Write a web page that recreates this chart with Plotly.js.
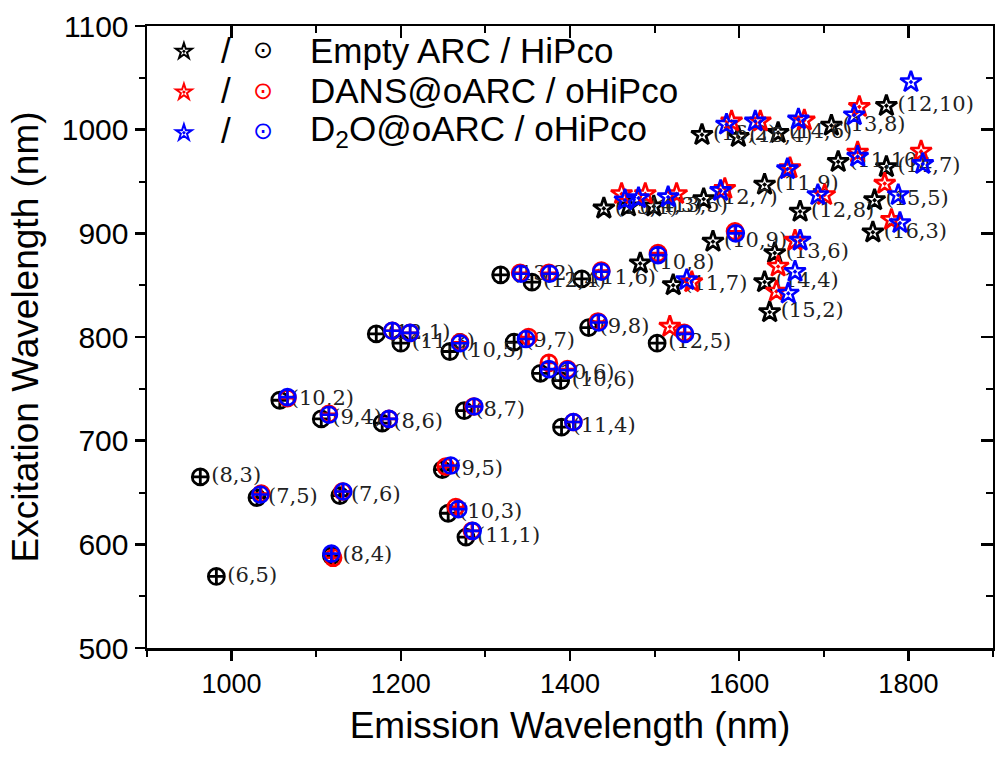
<!DOCTYPE html>
<html>
<head>
<meta charset="utf-8">
<script src="https://cdn.plot.ly/plotly-3.0.1.min.js"></script>
<style>html,body{margin:0;padding:0;background:#fff;}</style>
</head>
<body>
<div id="chart" style="width:995px;height:757px;"></div>
<script>
// HiPco (black circles) with chirality labels
const hipcoEm  = [982, 963, 1030, 1128, 1118, 1249, 1256, 1277, 1057, 1106, 1178, 1275, 1171, 1200, 1258, 1334, 1365, 1389, 1390, 1318, 1355, 1414, 1422, 1503];
const hipcoEx  = [569, 665, 645, 647, 589, 672, 630, 607, 739, 721, 717, 729, 803, 794, 786, 795, 765, 758, 713, 860, 853, 856, 809, 794];
const hipcoLab = ["(6,5)", "(8,3)", "(7,5)", "(7,6)", "(8,4)", "(9,5)", "(10,3)", "(11,1)", "(10,2)", "(9,4)", "(8,6)", "(8,7)", "(12,1)", "(11,3)", "(10,5)", "(9,7)", "(10,6)", "(10,6)", "(11,4)", "(13,2)", "(12,4)", "(11,6)", "(9,8)", "(12,5)"];

// Empty ARC (black stars) with chirality labels
const arcEm  = [1440, 1469, 1499, 1558, 1556, 1599, 1646, 1709, 1774, 1630, 1717, 1774, 1672, 1760, 1758, 1569, 1642, 1630, 1636, 1522, 1483];
const arcEx  = [924, 926, 926, 933, 995, 993, 997, 1004, 1023, 947, 969, 964, 921, 932, 901, 892, 881, 853, 824, 850, 871];
const arcLab = ["(15,1)", "(14,3)", "(13,5)", "(12,7)", "(16,2)", "(15,4)", "(14,6)", "(13,8)", "(12,10)", "(11,9)", "(11,10)", "(14,7)", "(12,8)", "(15,5)", "(16,3)", "(10,9)", "(13,6)", "(14,4)", "(15,2)", "(11,7)", "(10,8)"];

// DANS oHiPco (red circles)
const dansHiEm = [1035, 1131, 1120, 1253, 1265, 1284, 1066, 1115, 1186, 1286, 1190, 1211, 1270, 1351, 1375, 1397, 1404, 1341, 1375, 1437, 1433, 1504, 1535, 1595];
const dansHiEx = [649, 651, 587, 675, 636, 613, 741, 726, 721, 733, 806, 804, 795, 800, 775, 769, 718, 862, 862, 864, 815, 881, 804, 902];

// DANS@oARC (red stars)
const dansArcEm = [1461, 1489, 1526, 1583, 1591, 1625, 1677, 1742, 1660, 1740, 1815, 1701, 1772, 1780, 1666, 1646, 1644, 1544, 1518];
const dansArcEx = [938, 938, 938, 943, 1008, 1008, 1009, 1022, 963, 978, 979, 937, 948, 913, 893, 868, 844, 853, 810];

// D2O oHiPco (blue circles)
const d2oHiEm = [1034, 1132, 1118, 1259, 1268, 1285, 1066, 1115, 1186, 1287, 1190, 1211, 1270, 1348, 1375, 1397, 1404, 1342, 1376, 1437, 1434, 1504, 1536, 1596];
const d2oHiEx = [648, 651, 591, 676, 634, 613, 742, 725, 721, 733, 806, 804, 794, 798, 769, 768, 718, 861, 861, 863, 814, 879, 803, 900];

// D2O@oARC (blue stars)
const d2oArcEm = [1465, 1481, 1516, 1578, 1585, 1619, 1670, 1803, 1736, 1657, 1740, 1817, 1693, 1788, 1790, 1672, 1666, 1658, 1538];
const d2oArcEx = [932, 934, 935, 941, 1005, 1008, 1010, 1046, 1014, 962, 974, 967, 937, 937, 910, 893, 863, 842, 855];

// Legend
const legendLabels = ["Empty ARC / HiPco", "DANS@oARC / oHiPco", "D<sub>2</sub>O@oARC / oHiPco"];
const legendColors = ["#000000", "#ff0000", "#0000ff"];

const labelFont = {family: "DejaVu Serif, Liberation Serif, serif", size: 21, color: "#222"};
const circ = (color, w) => ({symbol: "circle-cross-open", size: 16, color: color, line: {color: color, width: w}});
const star = (color, w) => ({symbol: "star-open-dot", size: 16, color: color, line: {color: color, width: w}});

const traces = [
  {x: hipcoEm, y: hipcoEx, text: hipcoLab, mode: "markers+text", textposition: "middle right",
   textfont: labelFont, marker: circ("#000", 2.8), showlegend: false, cliponaxis: false},
  {x: arcEm, y: arcEx, text: arcLab, mode: "markers+text", textposition: "middle right",
   textfont: labelFont, marker: star("#000", 2.8), name: "\u00a0", cliponaxis: false},
  {x: dansHiEm, y: dansHiEx, mode: "markers", marker: circ(legendColors[1], 2.6), showlegend: false},
  {x: dansArcEm, y: dansArcEx, mode: "markers", marker: star(legendColors[1], 2.6), name: "\u00a0\u00a0"},
  {x: d2oHiEm, y: d2oHiEx, mode: "markers", marker: circ(legendColors[2], 2.6), showlegend: false},
  {x: d2oArcEm, y: d2oArcEx, mode: "markers", marker: star(legendColors[2], 2.6), name: "\u00a0\u00a0\u00a0"},
  {x: [], y: [], xaxis: "x2", yaxis: "y2", showlegend: false, hoverinfo: "skip"}
];

const rowY = [0.9614, 0.8955, 0.8312];
const annotations = [];
const legFont = {family: "Liberation Sans, Arial, sans-serif", size: 35, color: "#000"};
for (let i = 0; i < 3; i++) {
  annotations.push({xref: "paper", yref: "paper", x: 0.0933, y: rowY[i], xanchor: "center", yanchor: "middle",
                    text: "/", showarrow: false, font: legFont});
  annotations.push({xref: "paper", yref: "paper", x: 0.1370, y: rowY[i], xanchor: "center", yanchor: "middle",
                    text: "\u2299", showarrow: false,
                    font: {family: "DejaVu Sans, sans-serif", size: 24, color: legendColors[i]}});
  annotations.push({xref: "paper", yref: "paper", x: 0.1900, y: rowY[i], xanchor: "left", yanchor: "middle",
                    text: legendLabels[i], showarrow: false, font: legFont});
}

const axFont = {family: "Liberation Sans, Arial, sans-serif", color: "#000"};
const layout = {
  width: 995, height: 757,
  margin: {l: 147, r: 2, t: 26, b: 109},
  paper_bgcolor: "#fff", plot_bgcolor: "#fff",
  showlegend: true,
  annotations: annotations,
  legend: {x: 0.020, y: 1.0, xanchor: "left", yanchor: "top", bgcolor: "rgba(0,0,0,0)",
           font: {family: "Liberation Sans, Arial, sans-serif", size: 29, color: "#000"},
           itemsizing: "constant", tracegroupgap: 0},
  xaxis: {range: [900, 1900], tick0: 1000, dtick: 200, ticks: "outside", ticklen: 10, tickwidth: 2.5,
          tickcolor: "#000", showline: true, linewidth: 2.5, linecolor: "#000", showgrid: false, zeroline: false,
          minor: {dtick: 100, tick0: 900, ticks: "outside", ticklen: 6, tickwidth: 2, tickcolor: "#000", showgrid: false},
          tickfont: Object.assign({size: 27}, axFont),
          title: {text: "Emission Wavelength (nm)", font: Object.assign({size: 37}, axFont), standoff: 14}},
  yaxis: {range: [500, 1100], tick0: 500, dtick: 100, ticks: "outside", ticklen: 10, tickwidth: 2.5,
          tickcolor: "#000", showline: true, linewidth: 2.5, linecolor: "#000", showgrid: false, zeroline: false,
          minor: {dtick: 50, ticks: "outside", ticklen: 6, tickwidth: 2, tickcolor: "#000", showgrid: false},
          tickfont: Object.assign({size: 30}, axFont),
          title: {text: "Excitation Wavelength (nm)", font: Object.assign({size: 37}, axFont), standoff: 12}},
  xaxis2: {overlaying: "x", side: "top", anchor: "y2", range: [900, 1900], tick0: 1000, dtick: 200,
           ticks: "inside", ticklen: 12, tickwidth: 2.5, tickcolor: "#000", showticklabels: false,
           showline: true, linewidth: 2.5, linecolor: "#000", showgrid: false, zeroline: false,
           minor: {dtick: 100, tick0: 900, ticks: "inside", ticklen: 7, tickwidth: 2, tickcolor: "#000", showgrid: false}},
  yaxis2: {overlaying: "y", side: "right", anchor: "x2", range: [500, 1100], tick0: 500, dtick: 100,
           ticks: "inside", ticklen: 12, tickwidth: 2.5, tickcolor: "#000", showticklabels: false,
           showline: true, linewidth: 2.5, linecolor: "#000", showgrid: false, zeroline: false,
           minor: {dtick: 50, ticks: "inside", ticklen: 7, tickwidth: 2, tickcolor: "#000", showgrid: false}}
};

Plotly.newPlot("chart", traces, layout, {staticPlot: true, displayModeBar: false});
</script>
</body>
</html>
